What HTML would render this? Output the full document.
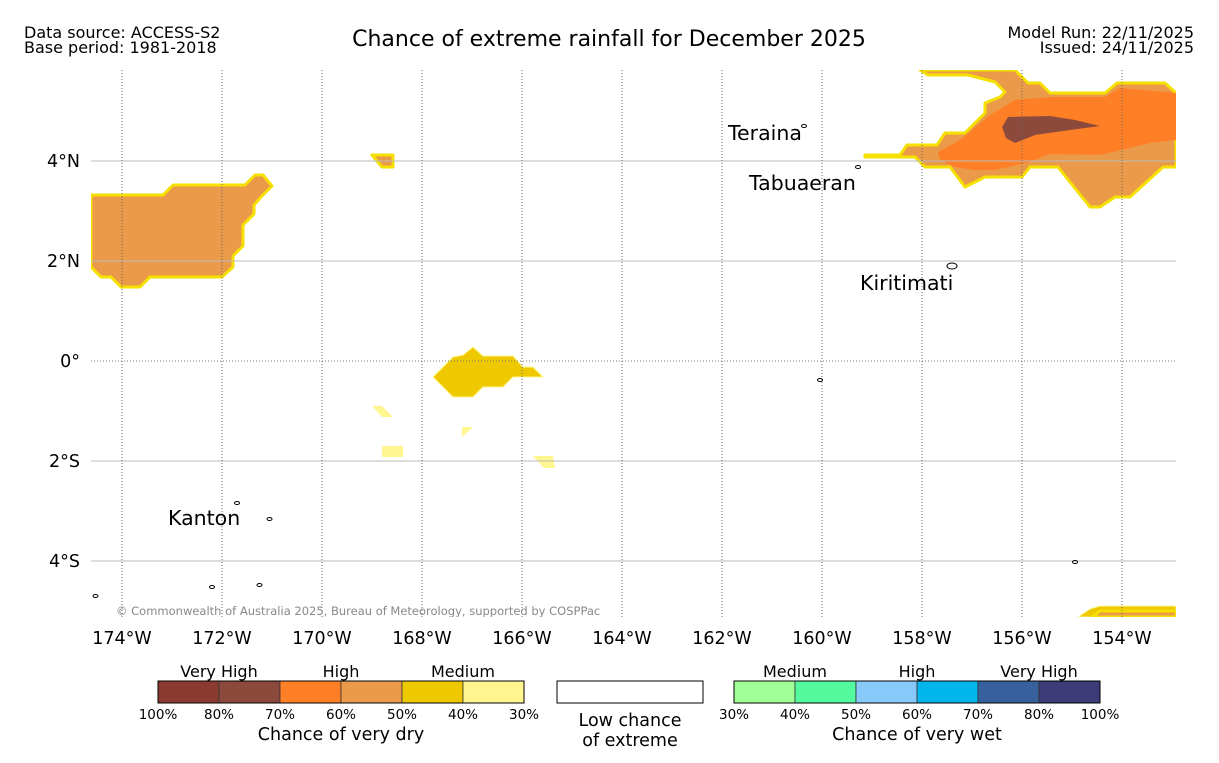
<!DOCTYPE html>
<html><head><meta charset="utf-8">
<style>
body{margin:0;background:#fff;}
svg text{font-family:"DejaVu Sans","Liberation Sans",sans-serif;}
</style></head>
<body>
<svg id="map" width="1219" height="758" viewBox="0 0 1219 758" xmlns="http://www.w3.org/2000/svg">
<text x="24" y="38" font-size="16">Data source: ACCESS-S2</text>
<text x="24" y="53" font-size="16">Base period: 1981-2018</text>
<text x="609" y="46" font-size="22" text-anchor="middle">Chance of extreme rainfall for December 2025</text>
<text x="1194" y="38" font-size="16" text-anchor="end">Model Run: 22/11/2025</text>
<text x="1194" y="53" font-size="16" text-anchor="end">Issued: 24/11/2025</text>
<g id="plot"></g>
<g id="legend"></g>
</svg>
<script>
const lonTicks=[-174,-172,-170,-168,-166,-164,-162,-160,-158,-156,-154];
const lonLabels=["174°W","172°W","170°W","168°W","166°W","164°W","162°W","160°W","158°W","156°W","154°W"];
const latTicks=[4,2,0,-2,-4];
const latLabels=["4°N","2°N","0°","2°S","4°S"];
const polyMediumHigh=[
 [[-174.62,3.32],[-173.18,3.32],[-172.98,3.52],[-171.54,3.52],[-171.34,3.72],[-171.18,3.72],[-171.0,3.5],[-171.2,3.3],[-171.36,3.12],[-171.36,2.94],[-171.58,2.72],[-171.58,2.3],[-171.78,2.1],[-171.78,1.88],[-172.0,1.68],[-173.44,1.68],[-173.64,1.48],[-174.02,1.48],[-174.22,1.68],[-174.42,1.68],[-174.62,1.88]],
 [[-158.04,5.82],[-156.14,5.82],[-155.88,5.56],[-155.64,5.56],[-155.44,5.36],[-154.34,5.36],[-154.1,5.56],[-153.14,5.56],[-152.92,5.36],[-152.92,3.88],[-153.18,3.88],[-153.84,3.28],[-154.14,3.28],[-154.44,3.08],[-154.64,3.08],[-155.28,3.88],[-155.84,3.88],[-156.0,3.68],[-156.74,3.68],[-157.14,3.48],[-157.44,3.88],[-157.94,3.88],[-158.14,4.08],[-159.14,4.08],[-159.14,4.12],[-158.44,4.12],[-158.3,4.32],[-157.7,4.32],[-157.54,4.56],[-157.14,4.56],[-156.74,4.96],[-156.74,5.16],[-156.44,5.28],[-156.34,5.38],[-156.54,5.58],[-157.08,5.72],[-157.88,5.72]],
 [[-169.0,4.12],[-168.58,4.12],[-168.58,3.88],[-168.8,3.88]],
 [[-154.44,-5.0],[-152.92,-5.0],[-152.92,-5.12],[-154.6,-5.12]]
];
const polyHigh=[
 [[-157.68,4.18],[-157.24,4.42],[-156.64,4.92],[-156.14,5.22],[-155.44,5.28],[-154.34,5.28],[-154.04,5.46],[-152.92,5.36],[-152.92,4.42],[-153.44,4.36],[-154.44,4.12],[-155.44,4.14],[-155.84,3.98],[-156.54,3.82],[-156.94,3.82],[-157.34,3.88],[-157.64,4.02]]
];
const polyVeryHigh=[
 [[-156.4,4.68],[-156.28,4.88],[-155.44,4.9],[-154.94,4.82],[-154.44,4.7],[-155.04,4.62],[-155.74,4.52],[-156.14,4.36],[-156.32,4.46]]
];
const polyMedium=[
 [[-167.78,-0.32],[-167.38,0.08],[-167.18,0.12],[-166.98,0.28],[-166.78,0.1],[-166.18,0.1],[-165.98,-0.12],[-165.78,-0.12],[-165.58,-0.32],[-166.18,-0.32],[-166.38,-0.52],[-166.78,-0.52],[-166.98,-0.72],[-167.38,-0.72]],
 [[-154.88,-5.12],[-154.64,-4.96],[-154.44,-4.9],[-152.92,-4.9],[-152.92,-5.12]]
];
const polyLow=[
 [[-169.0,-0.9],[-168.8,-0.9],[-168.58,-1.12],[-168.8,-1.12]],
 [[-168.8,-1.7],[-168.38,-1.7],[-168.38,-1.92],[-168.8,-1.92]],
 [[-167.2,-1.32],[-166.98,-1.32],[-167.2,-1.52]],
 [[-165.78,-1.9],[-165.38,-1.9],[-165.34,-2.14],[-165.56,-2.14]]
];
const places=["Teraina","Tabuaeran","Kiritimati","Kanton"];
const placeLon=[-161.88,-161.46,-159.24,-173.08];
const placeLat=[4.42,3.42,1.42,-3.28];
const islandLon=[-159.28,-157.4,-171.7,-160.04,-154.94,-171.05,-172.2,-171.25,-174.53,-160.36];
const islandLat=[3.88,1.9,-2.84,-0.38,-4.02,-3.16,-4.52,-4.48,-4.7,4.7];

const X0=91,X1=1176,Y0=70,Y1=617;
const xs=lon=>122+(lon+174)*50;
const ys=lat=>361-lat*50;
const NS="http://www.w3.org/2000/svg";
const plot=document.getElementById('plot');
function mk(tag,attrs,parent){const e=document.createElementNS(NS,tag);for(const k in attrs)e.setAttribute(k,attrs[k]);parent.appendChild(e);return e;}
const pts=p=>p.map(q=>xs(q[0]).toFixed(1)+','+ys(q[1]).toFixed(1)).join(' ');
function drawPolys(list,fill,stroke,sw,name){
 list.forEach(p=>{const e=mk('polygon',{points:pts(p),fill:fill,stroke:stroke,'stroke-width':sw,'stroke-linejoin':'round'},plot);
 
 });
}
mk('defs',{},plot).innerHTML='<clipPath id="clip"><rect x="91" y="70" width="1085" height="547"/></clipPath>';
plot.setAttribute('clip-path','url(#clip)');
drawPolys(polyLow,'#fff68f','none',0,'region-30-40');
drawPolys(polyMedium,'#eec900','#fff68f',1,'region-40-50');
drawPolys(polyMediumHigh,'#eb9a4a','#f5e000',3,'region-50-60');
drawPolys(polyHigh,'#ff7f27','none',0,'region-60-70');
drawPolys(polyVeryHigh,'#8b4a3c','none',0,'region-70-80');
latTicks.forEach((t,i)=>{const y=ys(t);
 const l=mk('line',{x1:X0,x2:X1,y1:y,y2:y,stroke:t===0?'#777':'#bbb','stroke-width':1,'stroke-dasharray':t===0?'1,2':'none'},plot);
 
 });
lonTicks.forEach((t,i)=>{const x=xs(t);
 const l=mk('line',{x1:x,x2:x,y1:Y0,y2:Y1,stroke:'#666','stroke-width':1,'stroke-dasharray':'1,2'},plot);
 
 });
islandLon.forEach((lo,i)=>{const e=mk('ellipse',{cx:xs(lo),cy:ys(islandLat[i]),rx:i===1?5:2.5,ry:i===1?3:1.5,fill:'none',stroke:'#000','stroke-width':1},plot);
 
 });
places.forEach((p,i)=>{const t=mk('text',{x:xs(placeLon[i]),y:ys(placeLat[i]),'font-size':20.5},plot);t.textContent=p;
 
 });
const cp=mk('text',{x:116,y:615,'font-size':11.5,fill:'#888'},plot);cp.textContent='© Commonwealth of Australia 2025, Bureau of Meteorology, supported by COSPPac';


const svg=document.getElementById('map');
lonTicks.forEach((t,i)=>{const e=mk('text',{x:xs(t),y:644,'font-size':17.5,'text-anchor':'middle'},svg);e.textContent=lonLabels[i];
 
 });
latTicks.forEach((t,i)=>{const e=mk('text',{x:80,y:ys(t)+6,'font-size':17.5,'text-anchor':'end'},svg);e.textContent=latLabels[i];
 
 });
const dryColors=['#8b3a2f','#8b4a3c','#ff7f27','#eb9a4a','#eec900','#fff68f'];
const wetColors=['#a0ff96','#55fa9f','#87cafa','#00b4ec','#37619d','#3d3b78'];
const dryLabels=['100%','80%','70%','60%','50%','40%','30%'];
const wetLabels=['30%','40%','50%','60%','70%','80%','100%'];
const catLabels=['Very High','High','Medium'];
const wetCat=['Medium','High','Very High'];
const leg=document.getElementById('legend');
function bar(x0,colors,labels,cats,title){
 const w=61;
 colors.forEach((c,i)=>{const r=mk('rect',{x:x0+i*w,y:681,width:w,height:22,fill:c,stroke:'#333','stroke-width':0.8},leg);
  
  });
 mk('rect',{x:x0,y:681,width:w*6,height:22,fill:'none',stroke:'#000','stroke-width':1},leg);
 labels.forEach((l,i)=>{const t=mk('text',{x:x0+i*w,y:719,'font-size':13.5,'text-anchor':'middle'},leg);t.textContent=l;
  
  });
 cats.forEach((l,i)=>{const t=mk('text',{x:x0+w+i*2*w,y:677,'font-size':16,'text-anchor':'middle'},leg);t.textContent=l;
  
  });
 const t=mk('text',{x:x0+3*w,y:740,'font-size':17.5,'text-anchor':'middle'},leg);t.textContent=title;
 
 
}
bar(158,dryColors,dryLabels,catLabels,'Chance of very dry');
bar(734,wetColors,wetLabels,wetCat,'Chance of very wet');
const lb=mk('rect',{x:557,y:681,width:146,height:22,fill:'#fff',stroke:'#000','stroke-width':1},leg);


const l1=mk('text',{x:630,y:726,'font-size':17.5,'text-anchor':'middle'},leg);l1.textContent='Low chance';


const l2=mk('text',{x:630,y:746,'font-size':17.5,'text-anchor':'middle'},leg);l2.textContent='of extreme';


</script>
</body></html>
